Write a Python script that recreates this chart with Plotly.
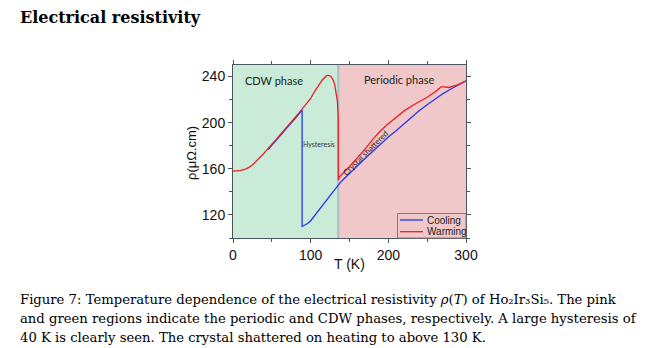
import plotly.graph_objects as go

# ---- data ----
T_warm = [0, 5, 10, 15, 20, 25, 30, 35, 40, 45, 50, 55, 60, 65, 70, 75, 80, 85, 90, 95,
          100, 105, 110, 115, 120, 123, 126, 129, 131, 133, 134.5, 135.5, 135.6, 137,
          140, 150, 160, 170, 180, 190, 200, 210, 220, 230, 240, 250, 260, 268, 272,
          278, 288, 300]
rho_warm = [158, 158.2, 158.6, 159.5, 161, 163.3, 166.5, 170, 173.5, 177.5, 181, 185, 189,
            192.7, 196.5, 200.5, 204.5, 208.5, 212.5, 216.5, 221, 227, 232.5, 237, 240.5,
            241, 240.3, 237, 233, 226, 218, 205, 150, 153, 155, 162, 169.5, 177, 185.5,
            193, 199, 204.5, 210, 214.5, 218, 222, 226.5, 231, 231, 230.5, 232.5, 236]

T_cool = [300, 290, 280, 270, 260, 250, 240, 230, 220, 210, 200, 190, 180, 170, 160, 150,
          140, 130, 120, 110, 100, 96, 92, 89, 89, 85, 80, 70, 60, 50, 45]
rho_cool = [236.3, 233, 229, 225, 220.5, 215.5, 210.5, 204.5, 198.5, 193, 187.5, 181.5, 175,
            169, 162.5, 156, 149.5, 141, 132, 123, 115, 112.5, 110.7, 110, 211, 207.5, 203.5,
            196, 188.3, 180.3, 176.5]

phase_bounds = [0, 135, 300]
phase_names = ["CDW phase", "Periodic phase"]
series_names = ["Cooling", "Warming"]
series_colors = ["rgb(40,55,235)", "rgb(235,30,35)"]
x_ticks = [0, 100, 200, 300]
y_ticks = [120, 160, 200, 240]

W, H = 658, 348
L, R, TOP, B = 233, 192, 65, 110
PW, PH = W - L - R, H - TOP - B


def px(x):
    return (x - L) / PW


def py(y):
    return (H - B - y) / PH


GREEN = "rgb(201,235,215)"
PINK = "rgb(240,200,201)"
AXC = "#4a5560"
SANS = "Liberation Sans, Arial, sans-serif"
CAL = "Lato, sans-serif"
SERIF = "DejaVu Serif, serif"

fig = go.Figure()
fig.add_trace(go.Scatter(x=T_cool, y=rho_cool, mode="lines", name=series_names[0],
                         line=dict(color=series_colors[0], width=1.3)))
fig.add_trace(go.Scatter(x=T_warm, y=rho_warm, mode="lines", name=series_names[1],
                         line=dict(color=series_colors[1], width=1.3)))

shapes = [
    dict(type="rect", xref="x", yref="paper", x0=phase_bounds[0], x1=phase_bounds[1], y0=0, y1=1,
         fillcolor=GREEN, line=dict(width=0), layer="below"),
    dict(type="rect", xref="x", yref="paper", x0=phase_bounds[1], x1=phase_bounds[2], y0=0, y1=1,
         fillcolor=PINK, line=dict(width=0), layer="below"),
    dict(type="line", xref="x", yref="paper", x0=phase_bounds[1] + 0.5, x1=phase_bounds[1] + 0.5,
         y0=0, y1=1, line=dict(color="rgb(165,190,198)", width=2), layer="below"),
    # legend box
    dict(type="rect", xref="paper", yref="paper", x0=px(397.5), x1=1, y0=0, y1=py(213.5),
         fillcolor="rgba(0,0,0,0)", line=dict(color="#8a7878", width=1)),
]

CAP = dict(family=SERIF, size=13.2, color="#000")
annotations = [
    dict(xref="x", yref="y", x=12.9, y=236.3, text=phase_names[0], showarrow=False,
         xanchor="left", yanchor="middle", font=dict(family=CAL, size=11, color="#222")),
    dict(xref="x", yref="y", x=166.6, y=237.1, text=phase_names[1], showarrow=False,
         xanchor="left", yanchor="middle", font=dict(family=CAL, size=11, color="#222")),
    dict(xref="x", yref="y", x=111, y=181.5, text="Hysteresis", showarrow=False,
         xanchor="center", yanchor="middle", font=dict(family=CAL, size=7, color="#333")),
    dict(xref="x", yref="y", x=170.6, y=173.5, text="Crystal shattered", showarrow=False,
         textangle=-45, xanchor="center", yanchor="middle",
         font=dict(family=CAL, size=8, color="#222")),
    # axis titles
    dict(xref="paper", yref="paper", x=px(349), y=py(264), text="T (K)", showarrow=False,
         xanchor="center", yanchor="middle", font=dict(family=SANS, size=14, color="#111")),
    dict(xref="paper", yref="paper", x=px(191), y=py(153), text="ρ(μΩ.cm)", showarrow=False,
         textangle=-90, xanchor="center", yanchor="middle",
         font=dict(family=SANS, size=13, color="#111")),
    # page title and caption
    dict(xref="paper", yref="paper", x=px(18), y=py(18), text="Electrical resistivity",
         showarrow=False, xanchor="left", yanchor="middle",
         font=dict(family=SERIF, size=16, color="#000", weight="bold")),
    dict(xref="paper", yref="paper", x=px(18), y=py(299),
         text="Figure 7: Temperature dependence of the electrical resistivity <i>ρ</i>(<i>T</i>) of "
              "Ho₂Ir₃Si₅. The pink",
         showarrow=False, xanchor="left", yanchor="middle", font=CAP),
    dict(xref="paper", yref="paper", x=px(18), y=py(318),
         text="and green regions indicate the periodic and CDW phases, respectively. "
              "A large hysteresis of",
         showarrow=False, xanchor="left", yanchor="middle", font=CAP),
    dict(xref="paper", yref="paper", x=px(18), y=py(337),
         text="40 K is clearly seen. The crystal shattered on heating to above 130 K.",
         showarrow=False, xanchor="left", yanchor="middle", font=CAP),
]

# hand-drawn compact legend (matches the small legend box of the reference)
for i, (nm, col) in enumerate(zip(series_names, series_colors)):
    yy = py(220 + i * 11.7)
    shapes.append(dict(type="line", xref="paper", yref="paper", x0=px(400), x1=px(423),
                       y0=yy, y1=yy, line=dict(color=col, width=1.3)))
    annotations.append(dict(xref="paper", yref="paper", x=px(425), y=yy, text=nm,
                            showarrow=False, xanchor="left", yanchor="middle",
                            font=dict(family=SANS, size=10, color="#222")))

axis_common = dict(showline=True, linecolor=AXC, linewidth=1, mirror="ticks", ticks="outside",
                   ticklen=4, tickwidth=1, tickcolor=AXC, showgrid=False, zeroline=False,
                   tickfont=dict(family=SANS, size=14, color="#111"))

fig.update_layout(
    width=W, height=H, margin=dict(l=L, r=R, t=TOP, b=B, pad=0),
    paper_bgcolor="white", plot_bgcolor="white",
    showlegend=False,
    xaxis=dict(range=[0, 300], tickvals=x_ticks,
               minor=dict(dtick=50, ticks="outside", ticklen=3, tickcolor=AXC),
               **axis_common),
    yaxis=dict(range=[100, 250], tickvals=y_ticks,
               minor=dict(dtick=20, ticks="outside", ticklen=3, tickcolor=AXC),
               **axis_common),
    shapes=shapes, annotations=annotations,
)

fig.write_html("out.html")
